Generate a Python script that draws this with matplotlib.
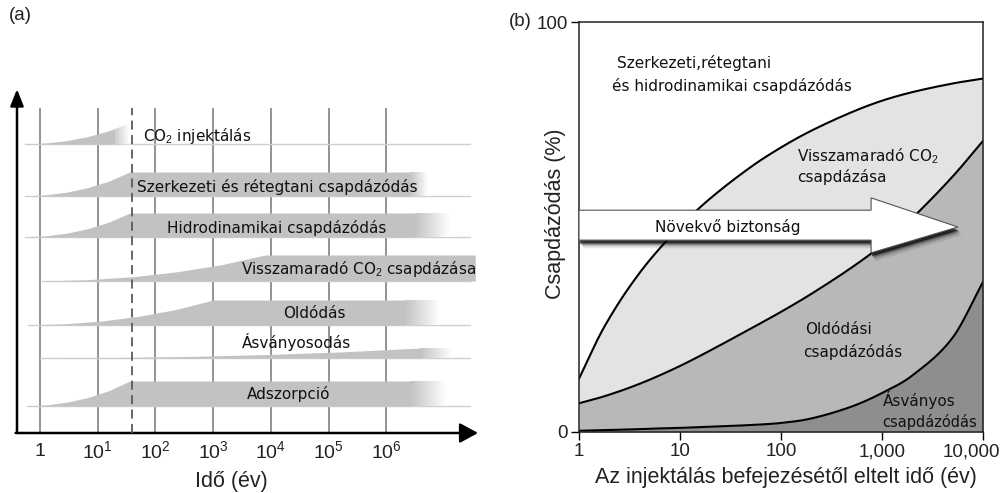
import numpy as np
import matplotlib
matplotlib.use("Agg")
import matplotlib.pyplot as plt
from matplotlib.patches import Polygon
from matplotlib.colors import to_rgb
from matplotlib.transforms import ScaledTranslation

plt.rcParams['font.family'] = ['DejaVu Sans']
plt.rcParams['mathtext.fontset'] = 'custom'
plt.rcParams['mathtext.rm'] = 'Liberation Sans'
plt.rcParams['mathtext.it'] = 'Liberation Sans:italic'
plt.rcParams['mathtext.bf'] = 'Liberation Sans:bold'

# ---------------- Panel (a) data ----------------
mechanisms_a = ["CO$_2$ injektálás", "Szerkezeti és rétegtani csapdázódás",
                "Hidrodinamikai csapdázódás", "Visszamaradó CO$_2$ csapdázása",
                "Oldódás", "Ásványosodás", "Adszorpció"]
ramp_start_years = [0.55, 0.55, 0.55, 1.1, 0.62, 1.0, 0.6]
ramp_end_years = [35, 36, 36, 8000, 1000, 3.9e6, 36]
fade_from_years = [20, 2.6e6, 3.1e6, 3.5e7, 2.1e6, 3.9e6, 2.6e6]
end_years = [35, 5.3e6, 1.3e7, 3.5e7, 8.5e6, 1.4e7, 1.1e7]
band_extent = [21, 24, 24, 26, 25, 10, 25]
injection_end_year = 40
decades_a = [1, 10, 1e2, 1e3, 1e4, 1e5, 1e6]
decade_labels_a = ["1", "10$^1$", "10$^2$", "10$^3$", "10$^4$", "10$^5$", "10$^6$"]
ramp_profile_x = [0.0, 0.2, 0.4, 0.6, 0.8, 1.0]
ramp_profile_h = [0.0, 0.05, 0.16, 0.35, 0.62, 1.0]

# ---------------- Panel (b) data ----------------
years_b = [1, 1.5, 2, 3, 5, 10, 20, 50, 100, 200, 500, 1000, 2000, 5000, 10000]
mineral_top = [0.3, 0.4, 0.5, 0.6, 0.8, 1.0, 1.3, 1.7, 2.2, 3.3, 6.2, 9.5, 13.8, 23.0, 36.6]
dissolution_top = [7, 8.16, 9.11, 10.6, 12.75, 16.1, 19.9, 25.2, 29.3, 33.7, 40.1, 45.6, 52.2, 62.3, 71.0]
residual_top = [13, 22.2, 27.8, 34.6, 41.9, 50.1, 57.0, 64.6, 69.4, 73.5, 78.0, 80.8, 82.9, 85.0, 86.2]
xticks_b = [1, 10, 100, 1000, 10000]
xtick_labels_b = ["1", "10", "100", "1,000", "10,000"]
yticks_b = [0, 100]

W, H = 1003, 493
fig = plt.figure(figsize=(W / 100, H / 100), dpi=100)


def fx(px):
    return px / W


def fy(py):
    return 1 - py / H


def smooth_line(x, y, xn):
    """Cubic Hermite drawing of a line through the read points (centred slopes)."""
    x = np.asarray(x, float)
    y = np.asarray(y, float)
    h = np.diff(x)
    d = np.diff(y) / h
    n = len(x)
    m = np.zeros(n)
    m[0], m[-1] = d[0], d[-1]
    for k in range(1, n - 1):
        m[k] = (y[k + 1] - y[k - 1]) / (x[k + 1] - x[k - 1])
    idx = np.clip(np.searchsorted(x, xn) - 1, 0, n - 2)
    t = (xn - x[idx]) / h[idx]
    h00 = 2 * t ** 3 - 3 * t ** 2 + 1
    h10 = t ** 3 - 2 * t ** 2 + t
    h01 = -2 * t ** 3 + 3 * t ** 2
    h11 = t ** 3 - t ** 2
    return (h00 * y[idx] + h10 * h[idx] * m[idx] + h01 * y[idx + 1]
            + h11 * h[idx] * m[idx + 1])


# ================= Panel (a) =================
ax_a = fig.add_axes([fx(17), fy(433), fx(478) - fx(17), fy(85) - fy(433)])
ax_a.set_xscale('log')
ax_a.set_xlim(10 ** (-23 / 57.7), 10 ** (438 / 57.7))
ax_a.set_ylim(0, 348)
ax_a.axis('off')

ax_a.vlines(decades_a, 0, 325, color='#8a8a8a', lw=1.3, zorder=1)
ax_a.vlines([injection_end_year], 0, 325, color='#5a5a5a', lw=1.3,
            linestyles=(0, (5, 3)), zorder=4)

band_base_px = [144, 196, 237, 281, 325, 358, 406]
band_color = np.array(to_rgb('#c2c2c2'))
white = np.array([1.0, 1.0, 1.0])
x_right_line = 10 ** ((470 - 40) / 57.7)

for i, name in enumerate(mechanisms_a):
    base = 433 - band_base_px[i]
    h = band_extent[i]
    ls = np.log10(ramp_start_years[i])
    le = np.log10(ramp_end_years[i])
    lf = np.log10(fade_from_years[i])
    lend = np.log10(end_years[i])

    def top(lx, ls=ls, le=le, h=h, base=base):
        f = np.clip((lx - ls) / (le - ls), 0, 1)
        return base + h * np.interp(f, ramp_profile_x, ramp_profile_h)

    ax_a.plot([ramp_start_years[i], x_right_line], [base, base],
              color='#cfcfcf', lw=1.0, zorder=2)
    lx = np.linspace(ls, lf, 200)
    ax_a.fill_between(10 ** lx, base, top(lx), color=band_color, lw=0, zorder=3)
    n = 24
    if lend > lf:
        edges = np.linspace(lf, lend, n + 1)
        for k in range(n):
            frac = (k + 0.5) / n
            c = band_color * (1 - frac) + white * frac
            seg = np.linspace(edges[k], edges[k + 1] + 1e-3, 5)
            ax_a.fill_between(10 ** seg, base, top(seg), color=c, lw=0, zorder=3)

ax_a.annotate('', xy=(0, 0.988), xytext=(0, 0), xycoords='axes fraction',
              arrowprops=dict(arrowstyle='-|>,head_length=0.5,head_width=0.2',
                              mutation_scale=20, lw=1.8, color='black',
                              shrinkA=0, shrinkB=0), annotation_clip=False)
ax_a.annotate('', xy=(1.0, 0), xytext=(-0.003, 0), xycoords='axes fraction',
              arrowprops=dict(arrowstyle='-|>,head_length=0.55,head_width=0.3',
                              mutation_scale=20, lw=1.8, color='black',
                              shrinkA=0, shrinkB=0), annotation_clip=False)

labels_pos_a = [(143, 136), (137, 187), (167, 228), (241, 269), (283, 313),
                (242, 342), (247, 394)]
for name, (px, py) in zip(mechanisms_a, labels_pos_a):
    fig.text(fx(px), fy(py), name, fontsize=11, ha='left', va='center',
             color='#111111', zorder=10)

for d, lab in zip(decades_a, decade_labels_a):
    px = 40 + 57.7 * np.log10(d)
    fig.text(fx(px), fy(451), lab, fontsize=14, family='Liberation Sans',
             ha='center', va='center', color='#222222')

fig.text(fx(231), fy(482), "Idő (év)", fontsize=15.5, family='Liberation Sans',
         ha='center', va='center', color='#222222')
fig.text(fx(9), fy(16), "(a)", fontsize=13.5, family='Liberation Sans',
         ha='left', va='center', color='#222222')

# ================= Panel (b) =================
ax_b = fig.add_axes([fx(579), fy(432), fx(983) - fx(579), fy(22) - fy(432)])
ax_b.set_xscale('log')
ax_b.set_xlim(1, 10000)
ax_b.set_ylim(0, 100)

lgrid = np.linspace(0, 4, 400)
tgrid = 10 ** lgrid
lyears = np.log10(years_b)
s_min = smooth_line(lyears, mineral_top, lgrid)
s_dis = smooth_line(lyears, dissolution_top, lgrid)
s_res = smooth_line(lyears, residual_top, lgrid)

ax_b.fill_between(tgrid, 0, s_min, color='#8e8e8e', lw=0, zorder=1)
ax_b.fill_between(tgrid, s_min, s_dis, color='#b8b8b8', lw=0, zorder=1)
ax_b.fill_between(tgrid, s_dis, s_res, color='#e3e3e3', lw=0, zorder=1)
for curve in (s_min, s_dis, s_res):
    ax_b.plot(tgrid, curve, color='black', lw=1.5, zorder=2)

ax_b.set_xticks(xticks_b)
ax_b.set_xticklabels(xtick_labels_b, fontsize=13.5, family='Liberation Sans', color='#222222')
ax_b.set_yticks(yticks_b)
ax_b.set_yticklabels([str(v) for v in yticks_b], fontsize=13.5, family='Liberation Sans',
                     color='#222222')
ax_b.minorticks_off()
ax_b.tick_params(axis='both', direction='out', length=6, width=1, pad=2)
last = ax_b.get_xticklabels()[-1]
last.set_transform(last.get_transform() + ScaledTranslation(-0.12, 0, fig.dpi_scale_trans))
for s in ax_b.spines.values():
    s.set_linewidth(1.1)
    s.set_color('#222222')

fig.text(fx(786), fy(478), "Az injektálás befejezésétől eltelt idő (év)", fontsize=15.5,
         family='Liberation Sans', color='#222222', ha='center', va='center')
fig.text(fx(555), fy(214), "Csapdázódás (%)", fontsize=15.5, family='Liberation Sans',
         color='#222222', rotation=90, ha='center', va='center')

# arrow "Növekvő biztonság"
bt, bb = 0.541, 0.468
hx, ht, hb = 0.723, 0.571, 0.437
tx, ty = 0.938, 0.50
arrow_pts = np.array([(0, bt), (hx, bt), (hx, ht), (tx, ty), (hx, hb), (hx, bb), (0, bb)])
for dx, dy, a in [(0.010, -0.020, 0.10), (0.007, -0.015, 0.18),
                  (0.004, -0.011, 0.35), (0.002, -0.008, 0.6)]:
    ax_b.add_patch(Polygon(arrow_pts + np.array([dx, dy]), closed=True,
                           transform=ax_b.transAxes, facecolor='black',
                           edgecolor='none', alpha=a, zorder=3, clip_on=True))
ax_b.add_patch(Polygon(arrow_pts, closed=True, transform=ax_b.transAxes,
                       facecolor='white', edgecolor='#555555', lw=0.8, zorder=4,
                       clip_on=False))
fig.text(fx(655), fy(227), "Növekvő biztonság", fontsize=11, ha='left', va='center',
         color='#111111', zorder=10)

fig.text(fx(617), fy(63), "Szerkezeti,rétegtani", fontsize=11, ha='left', va='center', color='#111111')
fig.text(fx(612), fy(86), "és hidrodinamikai csapdázódás", fontsize=11, ha='left', va='center', color='#111111')
fig.text(fx(797), fy(156), "Visszamaradó CO$_2$", fontsize=11, ha='left', va='center', color='#111111')
fig.text(fx(797), fy(177), "csapdázása", fontsize=11, ha='left', va='center', color='#111111')
fig.text(fx(805), fy(330), "Oldódási", fontsize=11, ha='left', va='center', color='#111111')
fig.text(fx(803), fy(352), "csapdázódás", fontsize=11, ha='left', va='center', color='#111111')
fig.text(fx(883), fy(400), "Ásványos", fontsize=11, ha='left', va='center', color='#111111')
fig.text(fx(882), fy(422), "csapdázódás", fontsize=10.5, ha='left', va='center', color='#111111')

fig.text(fx(509), fy(22), "(b)", fontsize=13.5, family='Liberation Sans',
         ha='left', va='center', color='#222222')

fig.savefig("out.png", dpi=100)
